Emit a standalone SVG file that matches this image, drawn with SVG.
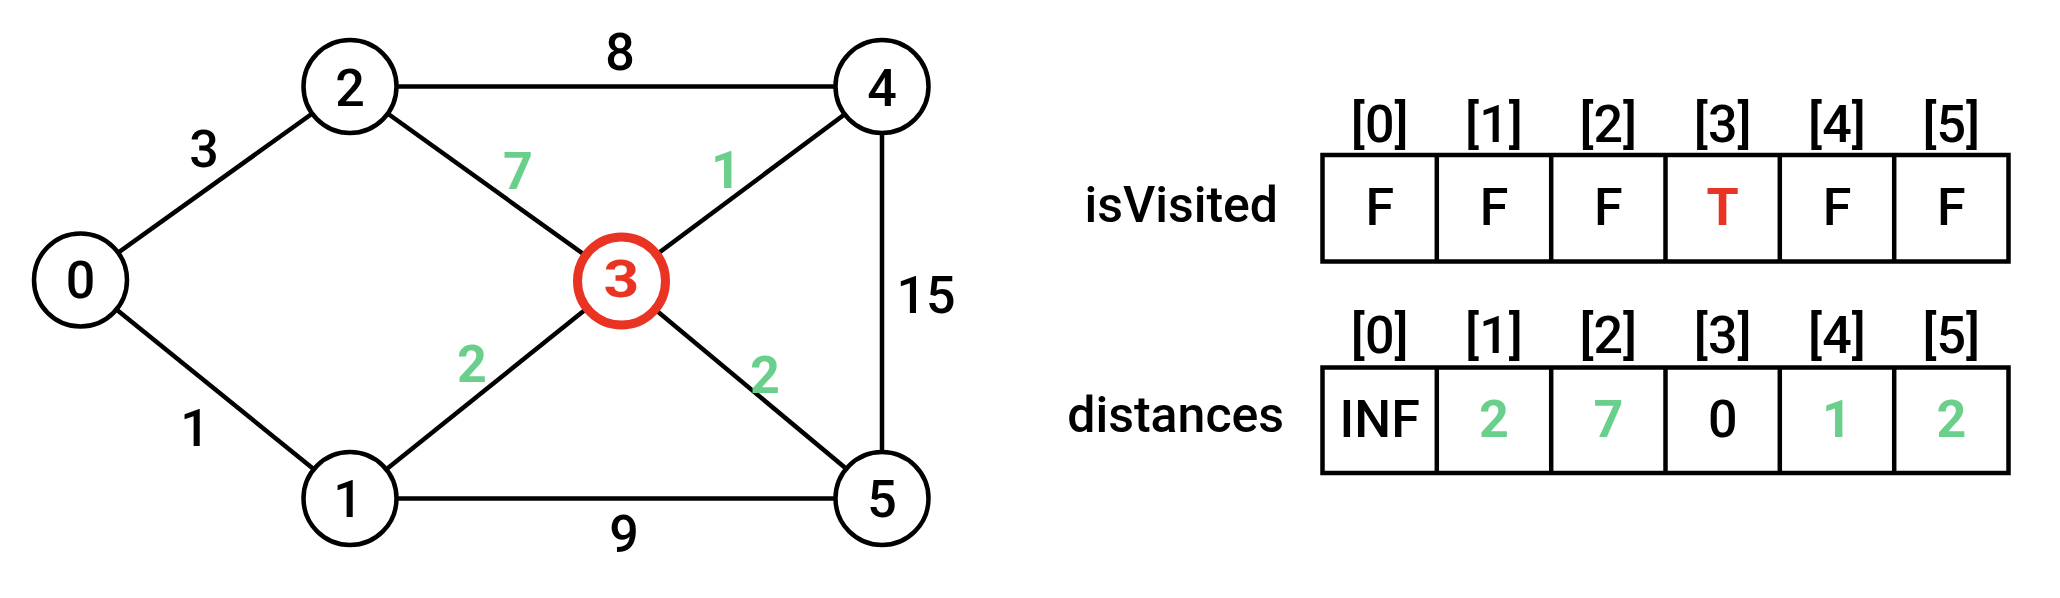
<svg xmlns="http://www.w3.org/2000/svg" width="2060" height="598" viewBox="0 0 2060 598">
<style>
text{font-family:Roboto,"Liberation Sans",sans-serif;font-size:52px;font-weight:500;text-anchor:middle;fill:#000}
.g{fill:#6bcf8c;font-weight:bold}
.r{fill:#e93323;font-weight:bold}
.lbl{text-anchor:end;font-size:50px}
.edge{stroke:#000;stroke-width:4.5;fill:none}
.node{fill:#fff;stroke:#000;stroke-width:4.5}
.vis{fill:#fff;stroke:#e93323;stroke-width:9}
.cell{fill:#fff;stroke:#000;stroke-width:4.5}
</style>
<rect width="2060" height="598" fill="#fff"/>
<g id="edges">
<line class="edge" x1="80" y1="280" x2="350" y2="86.5"/>
<line class="edge" x1="80" y1="280" x2="350" y2="498.5"/>
<line class="edge" x1="350" y1="86.5" x2="882" y2="86.5"/>
<line class="edge" x1="350" y1="86.5" x2="621" y2="281"/>
<line class="edge" x1="621" y1="281" x2="882" y2="86.5"/>
<line class="edge" x1="350" y1="498.5" x2="621" y2="281"/>
<line class="edge" x1="621" y1="281" x2="882" y2="498.5"/>
<line class="edge" x1="350" y1="498.5" x2="882" y2="498.5"/>
<line class="edge" x1="882" y1="86.5" x2="882" y2="498.5"/>
<text x="204" y="167">3</text>
<text x="620" y="70">8</text>
<text class="g" x="518" y="189">7</text>
<text x="195" y="446">1</text>
<text class="g" x="472" y="382">2</text>
<text x="624" y="552">9</text>
<text class="g" x="726" y="188">1</text>
<text x="926" y="313">15</text>
<text class="g" x="765" y="393">2</text>
</g>
<g id="node0"><circle class="node" cx="80.5" cy="280" r="46.5"/><text x="80.5" y="298">0</text></g>
<g id="node1"><circle class="node" cx="350" cy="498.5" r="46.5"/><text x="348" y="517">1</text></g>
<g id="node2"><circle class="node" cx="350" cy="86.5" r="46.5"/><text x="350" y="105.5">2</text></g>
<g id="node3"><circle class="vis" cx="621.5" cy="281" r="44"/><text class="r" x="621.5" y="297" font-size="46" transform="translate(621.5 0) scale(1.2 1) translate(-621.5 0)">3</text></g>
<g id="node4"><circle class="node" cx="882" cy="86.5" r="46.5"/><text x="882" y="105.5">4</text></g>
<g id="node5"><circle class="node" cx="882" cy="498.5" r="46.5"/><text x="882" y="517">5</text></g>
<g id="isVisited">
<text class="lbl" x="1278" y="222">isVisited</text>
<rect class="cell" x="1322.5" y="155" width="686" height="106.5"/>
<line class="edge" x1="1436.8" y1="155" x2="1436.8" y2="261.5"/>
<line class="edge" x1="1551.2" y1="155" x2="1551.2" y2="261.5"/>
<line class="edge" x1="1665.5" y1="155" x2="1665.5" y2="261.5"/>
<line class="edge" x1="1779.8" y1="155" x2="1779.8" y2="261.5"/>
<line class="edge" x1="1894.2" y1="155" x2="1894.2" y2="261.5"/>
<text x="1379.7" y="141.5">[0]</text>
<text x="1494" y="141.5">[1]</text>
<text x="1608.3" y="141.5">[2]</text>
<text x="1722.7" y="141.5">[3]</text>
<text x="1837" y="141.5">[4]</text>
<text x="1951.3" y="141.5">[5]</text>
<text x="1379.7" y="225">F</text>
<text x="1494" y="225">F</text>
<text x="1608.3" y="225">F</text>
<text class="r" x="1722.7" y="225">T</text>
<text x="1837" y="225">F</text>
<text x="1951.3" y="225">F</text>
</g>
<g id="distances">
<text class="lbl" x="1284" y="432">distances</text>
<rect class="cell" x="1322.5" y="367.5" width="686" height="105.5"/>
<line class="edge" x1="1436.8" y1="367.5" x2="1436.8" y2="473"/>
<line class="edge" x1="1551.2" y1="367.5" x2="1551.2" y2="473"/>
<line class="edge" x1="1665.5" y1="367.5" x2="1665.5" y2="473"/>
<line class="edge" x1="1779.8" y1="367.5" x2="1779.8" y2="473"/>
<line class="edge" x1="1894.2" y1="367.5" x2="1894.2" y2="473"/>
<text x="1379.7" y="353">[0]</text>
<text x="1494" y="353">[1]</text>
<text x="1608.3" y="353">[2]</text>
<text x="1722.7" y="353">[3]</text>
<text x="1837" y="353">[4]</text>
<text x="1951.3" y="353">[5]</text>
<text x="1379.7" y="436.5">INF</text>
<text class="g" x="1494" y="436.5">2</text>
<text class="g" x="1608.3" y="436.5">7</text>
<text x="1722.7" y="436.5">0</text>
<text class="g" x="1837" y="436.5">1</text>
<text class="g" x="1951.3" y="436.5">2</text>
</g>
</svg>
